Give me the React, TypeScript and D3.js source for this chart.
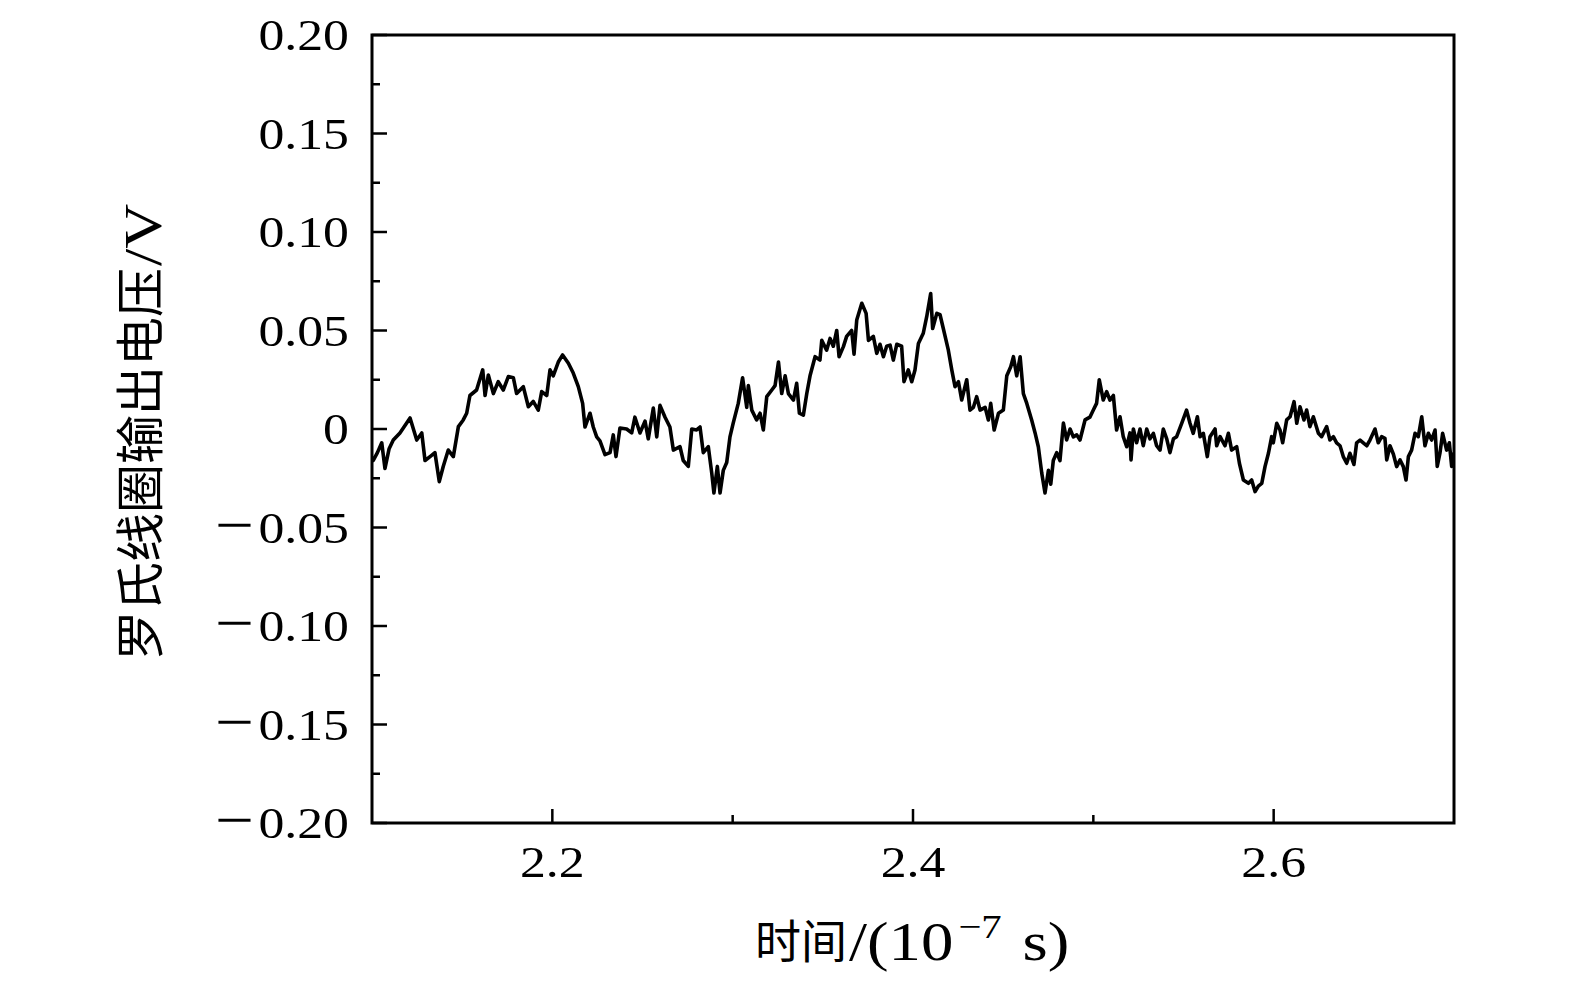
import React from "react";
import * as d3 from "d3";

const timeValues: number[] = [
  2.1, 2.1007, 2.103, 2.1054, 2.1072, 2.1095, 2.1118, 2.1155, 2.1211, 2.1248, 2.1276, 2.1294, 2.1322, 2.1349,
  2.1373, 2.1395, 2.1423, 2.1451, 2.1479, 2.1506, 2.1525, 2.1543, 2.158, 2.1614, 2.1627, 2.1645, 2.1673, 2.17,
  2.1728, 2.1756, 2.1784, 2.1802, 2.1839, 2.1867, 2.1894, 2.1922, 2.1941, 2.1969, 2.1987, 2.2005, 2.2033, 2.2057,
  2.2089, 2.2116, 2.2144, 2.2168, 2.2181, 2.2209, 2.2227, 2.2246, 2.2264, 2.2292, 2.232, 2.2338, 2.2353, 2.2375,
  2.2412, 2.244, 2.2458, 2.2486, 2.2514, 2.2532, 2.256, 2.2579, 2.2597, 2.2625, 2.2652, 2.2671, 2.2708, 2.2726,
  2.2754, 2.2773, 2.28, 2.2819, 2.2837, 2.2865, 2.2884, 2.2896, 2.2915, 2.293, 2.2948, 2.2967, 2.2985, 2.3003,
  2.3031, 2.3055,
  2.3078, 2.3087, 2.3106, 2.3133, 2.3152, 2.317, 2.3189, 2.3217, 2.3235, 2.3254, 2.3272, 2.3291, 2.3309, 2.3337,
  2.3355, 2.337, 2.3392, 2.3411, 2.3429, 2.3457, 2.3484, 2.3494, 2.3521, 2.354, 2.3558, 2.3577, 2.359, 2.3614,
  2.3632, 2.366, 2.3673, 2.3688, 2.3716, 2.374, 2.3753, 2.378, 2.3799, 2.3817, 2.3836, 2.3854, 2.3873, 2.3891,
  2.391, 2.3937, 2.395, 2.3974, 2.3993, 2.4011, 2.403, 2.4057, 2.4076, 2.4098, 2.4109, 2.4132, 2.415, 2.4168,
  2.4196, 2.4215, 2.4233, 2.4252, 2.427, 2.4298, 2.4316, 2.4335, 2.4353, 2.4372, 2.44, 2.4418, 2.4431, 2.445,
  2.4474, 2.4501, 2.452, 2.4542, 2.4557, 2.4575, 2.4594, 2.4612, 2.4631, 2.4658, 2.4677, 2.4695, 2.4714, 2.4732,
  2.4751, 2.4764, 2.4778, 2.4797, 2.4815, 2.4834, 2.4852, 2.4871, 2.4889, 2.4908, 2.4926, 2.4954, 2.4981, 2.5,
  2.5018, 2.5033, 2.5055, 2.5074, 2.5092, 2.5111, 2.5129, 2.5148,
  2.5166, 2.5185, 2.5203, 2.5209, 2.5222, 2.524, 2.5259, 2.5277, 2.5296, 2.5314, 2.5333, 2.5351, 2.537, 2.5388,
  2.5407, 2.5425, 2.5444, 2.5462, 2.549, 2.5517, 2.5536, 2.5554, 2.5577, 2.5592, 2.561, 2.5632, 2.5647, 2.5675,
  2.5684, 2.5703, 2.573, 2.5749, 2.5767, 2.5795, 2.581, 2.5832, 2.586, 2.5878, 2.5897, 2.5915, 2.5934, 2.5952,
  2.5971, 2.5989, 2.5998, 2.6017, 2.6035, 2.605, 2.6072, 2.6091, 2.6113, 2.6128, 2.6146, 2.6168, 2.6183, 2.6201,
  2.622, 2.6248, 2.6266, 2.6294, 2.6312, 2.6331, 2.6349, 2.6368, 2.6386, 2.6405, 2.6423, 2.6445, 2.646, 2.6479,
  2.6497, 2.6516, 2.6534, 2.6562, 2.658, 2.6599, 2.6617, 2.6627, 2.6645, 2.6664, 2.6682, 2.6701, 2.6719, 2.6734,
  2.6747, 2.6765, 2.6784, 2.6802, 2.6821, 2.6839, 2.6858, 2.6876, 2.6895, 2.6907, 2.6922, 2.6937, 2.6959, 2.6974,
  2.6987, 2.7,
];

const voltageValues: number[] = [
  -0.014, -0.016, -0.012, -0.007, -0.02, -0.01, -0.0056, -0.002, 0.0056, -0.0056, -0.002, -0.016, -0.014, -0.012,
  -0.0267, -0.019, -0.0107, -0.014, 0.0012, 0.0046, 0.008, 0.017, 0.0198, 0.03, 0.017, 0.0274, 0.018, 0.024,
  0.0198, 0.0266, 0.026, 0.018, 0.0215, 0.0113, 0.014, 0.0096, 0.019, 0.017, 0.03, 0.027, 0.034, 0.0376,
  0.0334, 0.0284, 0.0215, 0.013, 0.001, 0.008, 0.001, -0.004, -0.006, -0.013, -0.012, -0.003, -0.014, 0.0005,
  0.0, -0.002, 0.006, -0.002, 0.004, -0.005, 0.0106, -0.004, 0.012, 0.006, 0.001, -0.0107, -0.009, -0.016,
  -0.019, 0.0, -0.0005, 0.001, -0.012, -0.009, -0.0224, -0.0325, -0.019, -0.0325, -0.021, -0.017, -0.004, 0.003,
  0.013, 0.026,
  0.011, 0.022, 0.0096, 0.0046, 0.008, -0.0005, 0.0164, 0.0198, 0.022, 0.034, 0.018, 0.027, 0.018, 0.0147,
  0.0232, 0.008, 0.007, 0.018, 0.027, 0.0367, 0.035, 0.045, 0.04, 0.046, 0.042, 0.05, 0.0367, 0.0418,
  0.047, 0.05, 0.038, 0.0553, 0.0638, 0.0587, 0.045, 0.047, 0.0384, 0.043, 0.0367, 0.042, 0.0426, 0.035,
  0.043, 0.042, 0.024, 0.03, 0.024, 0.03, 0.0434, 0.0486, 0.057, 0.0688, 0.051, 0.0587, 0.058, 0.051,
  0.04, 0.03, 0.0215, 0.024, 0.0147, 0.025, 0.0096, 0.011, 0.0164, 0.0096, 0.011, 0.0046, 0.013, -0.0005,
  0.008, 0.0096, 0.027, 0.0316, 0.0367, 0.027, 0.0367, 0.018, 0.013, 0.0046, -0.002, -0.009, -0.0224, -0.0325,
  -0.021, -0.028, -0.016, -0.012, -0.016, 0.003, -0.0056, 0.0, -0.004, -0.003, -0.0056, 0.0046, 0.006, 0.0096,
  0.013, 0.025, 0.0147, 0.019, 0.0147, 0.017, -0.0005, 0.0062,
  -0.0039, -0.009, -0.002, -0.0157, 0.0, -0.007, 0.0, -0.0085, 0.0, -0.005, -0.0022, -0.0085, -0.0107, 0.0,
  -0.005, -0.012, -0.005, -0.0039, 0.0029, 0.0096, 0.0029, -0.0022, 0.0062, -0.0039, -0.0022, -0.014, -0.0039, 0.0,
  -0.0085, -0.0039, -0.0085, -0.0022, -0.0107, -0.009, -0.0174, -0.0259, -0.0276, -0.0259, -0.0318, -0.029, -0.0276, -0.0191,
  -0.0123, -0.0039, -0.007, 0.0029, -0.0005, -0.007, 0.0046, 0.0062, 0.0139, 0.0029, 0.0113, 0.0046, 0.0096, 0.0012,
  0.0062, -0.0022, -0.0039, 0.0012, -0.0056, -0.0039, -0.007, -0.0085, -0.014, -0.0174, -0.0123, -0.018, -0.007, -0.0056,
  -0.007, -0.0085, -0.0056, 0.0, -0.007, -0.0039, -0.0047, -0.0157, -0.0085, -0.0128, -0.0191, -0.0157, -0.0191, -0.0259,
  -0.014, -0.0107, -0.0022, -0.0039, 0.0062, -0.0085, -0.0022, -0.0056, -0.0005, -0.019, -0.0123, -0.0022, -0.0107, -0.007,
  -0.019, -0.012,
];

const yMajorTicks: number[] = [-0.2, -0.15, -0.1, -0.05, 0, 0.05, 0.1, 0.15, 0.2];
const yMinorTicks: number[] = [-0.175, -0.125, -0.075, -0.025, 0.025, 0.075, 0.125, 0.175];
const xMajorTicks: number[] = [2.2, 2.4, 2.6];
const xMinorTicks: number[] = [2.3, 2.5];

const xTitleCJK = "时间";
const xTitleLatin = "/(10";
const xTitleSup = "−7";
const xTitleEnd = " s)";
const yTitleCJK = "罗氏线圈输出电压";
const yTitleLatin = "/V";

const W = 1575;
const H = 984;
const LEFT = 372;
const RIGHT = 1454;
const TOP = 35;
const BOTTOM = 823;

const LATIN = "'Liberation Serif', 'DejaVu Serif', serif";
const CJK = "'Noto Sans CJK SC', 'Noto Sans CJK JP', sans-serif";

export default function App() {
  const x = d3.scaleLinear().domain([2.1, 2.7]).range([LEFT, RIGHT]);
  const y = d3.scaleLinear().domain([-0.2, 0.2]).range([BOTTOM, TOP]);
  const pts: [number, number][] = timeValues.map((t, i) => [t, voltageValues[i]]);
  const line = d3
    .line<[number, number]>()
    .x((d) => x(d[0]))
    .y((d) => y(d[1]));
  const fmtAbs = d3.format(".2f");
  const fmtX = d3.format(".1f");

  return (
    <svg
      width={W}
      height={H}
      style={{ position: "absolute", left: 0, top: 0, background: "#fff" }}
    >
      <rect x={0} y={0} width={W} height={H} fill="#fff" />
      <defs>
        <clipPath id="plotclip">
          <rect x={LEFT} y={TOP} width={RIGHT - LEFT} height={BOTTOM - TOP} />
        </clipPath>
      </defs>
      <path
        d={line(pts) || ""}
        fill="none"
        stroke="#000"
        strokeWidth={3.6}
        strokeLinejoin="round"
        clipPath="url(#plotclip)"
      />
      {yMajorTicks.map((v) => (
        <line key={"ym" + v} x1={LEFT} x2={LEFT + 15} y1={y(v)} y2={y(v)} stroke="#000" strokeWidth={2.5} />
      ))}
      {yMinorTicks.map((v) => (
        <line key={"yn" + v} x1={LEFT} x2={LEFT + 8} y1={y(v)} y2={y(v)} stroke="#000" strokeWidth={2.5} />
      ))}
      {xMajorTicks.map((v) => (
        <line key={"xm" + v} x1={x(v)} x2={x(v)} y1={BOTTOM} y2={BOTTOM - 14} stroke="#000" strokeWidth={2.5} />
      ))}
      {xMinorTicks.map((v) => (
        <line key={"xn" + v} x1={x(v)} x2={x(v)} y1={BOTTOM} y2={BOTTOM - 8} stroke="#000" strokeWidth={2.5} />
      ))}
      <rect
        x={LEFT}
        y={TOP}
        width={RIGHT - LEFT}
        height={BOTTOM - TOP}
        fill="none"
        stroke="#000"
        strokeWidth={3}
      />
      {yMajorTicks.map((v) => (
        <text
          key={"yl" + v}
          transform={`translate(349,${y(v) + 15}) scale(1.15,1)`}
          textAnchor="end"
          fontFamily={LATIN}
          fontSize={45}
          fill="#000"
        >
          {v < -1e-9 ? (
            <tspan fontSize={60} dy={2}>
              {"−"}
            </tspan>
          ) : null}
          {v < -1e-9 ? (
            <tspan dx={4} dy={-2}>
              {fmtAbs(-v)}
            </tspan>
          ) : Math.abs(v) < 1e-9 ? (
            "0"
          ) : (
            fmtAbs(v)
          )}
        </text>
      ))}
      {xMajorTicks.map((v) => (
        <text
          key={"xl" + v}
          transform={`translate(${x(v)},877) scale(1.15,1)`}
          textAnchor="middle"
          fontFamily={LATIN}
          fontSize={45}
          fill="#000"
        >
          {fmtX(v)}
        </text>
      ))}
      <text x={755} y={958} fontFamily={CJK} fontSize={46} fill="#000">
        {xTitleCJK}
      </text>
      <text transform="translate(849,960) scale(1.2,1)" fontFamily={LATIN} fontSize={54} fill="#000">
        {xTitleLatin}
        <tspan fontSize={34} dy={-22} dx={4}>
          {xTitleSup}
        </tspan>
        <tspan fontSize={54} dy={22} dx={4}>
          {xTitleEnd}
        </tspan>
      </text>
      <text transform="translate(158,660) rotate(-90)" fontFamily={CJK} fontSize={49} fill="#000">
        {yTitleCJK}
      </text>
      <text transform="translate(161,266) rotate(-90) scale(1.2,1)" fontFamily={LATIN} fontSize={52} fill="#000">
        {yTitleLatin}
      </text>
    </svg>
  );
}
